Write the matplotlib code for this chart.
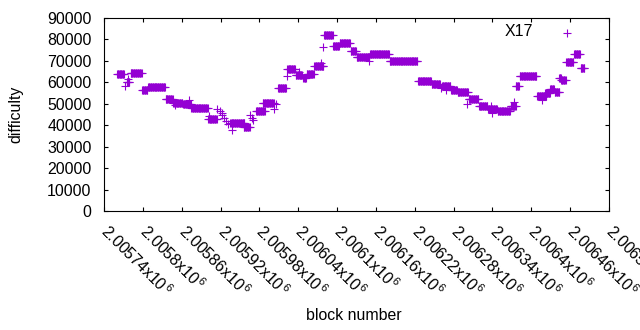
import numpy as np
import matplotlib
matplotlib.use('Agg')
from matplotlib import pyplot as plt

plt.rcParams['font.family'] = ['Liberation Sans', 'DejaVu Sans']
plt.rcParams['mathtext.fontset'] = 'custom'
plt.rcParams['mathtext.rm'] = 'Liberation Sans'
plt.rcParams['mathtext.it'] = 'Liberation Sans'

# plateaus: first block, last block, difficulty (same value for every block in between)
run_first = [2005760, 2005775, 2005781, 2005799, 2005808, 2005835, 2005847, 2005862,
             2005875, 2005901, 2005935, 2005956, 2005975, 2005985, 2006009, 2006023,
             2006036, 2006048, 2006053, 2006065, 2006080, 2006094, 2006104, 2006121,
             2006130, 2006151, 2006181, 2006225, 2006246, 2006262, 2006276, 2006286,
             2006303, 2006319, 2006333, 2006348, 2006368, 2006376, 2006382, 2006409,
             2006421, 2006429, 2006436, 2006443, 2006446, 2006454, 2006466, 2006476]
run_last = [2005771, 2005779, 2005798, 2005807, 2005834, 2005846, 2005861, 2005874,
            2005900, 2005914, 2005957, 2005965, 2005988, 2006002, 2006021, 2006035,
            2006046, 2006052, 2006064, 2006079, 2006093, 2006103, 2006120, 2006129,
            2006150, 2006180, 2006224, 2006245, 2006259, 2006275, 2006285, 2006302,
            2006318, 2006332, 2006347, 2006367, 2006376, 2006381, 2006408, 2006423,
            2006429, 2006435, 2006443, 2006446, 2006453, 2006465, 2006475, 2006482]
run_diff = [63800, 60300, 64300, 56300, 57700, 52100, 50500, 50000,
            47900, 42900, 41000, 39200, 46600, 50200, 57200, 66100,
            63500, 61800, 63700, 67800, 82000, 76800, 78400, 74600,
            71700, 73200, 70000, 60500, 59000, 58100, 56400, 55400,
            52100, 48800, 47600, 46500, 48900, 58100, 62900, 53800,
            55200, 56800, 55500, 62000, 61100, 69400, 73200, 66800]

# odd single blocks
one_block = [2005773, 2005777, 2005850, 2005872, 2005902, 2005915, 2005919, 2005922,
             2005923, 2005926, 2005928, 2005931, 2005938, 2005966, 2005968, 2005970,
             2006003, 2006006, 2006022, 2006041, 2006075, 2006078, 2006149, 2006260,
             2006268, 2006301, 2006337, 2006340, 2006374, 2006416]
one_diff = [58300, 61700, 49300, 51600, 44200, 47700, 46800, 45800,
            45000, 43500, 42000, 40500, 37800, 44800, 43500, 42300,
            47400, 49900, 62900, 64900, 69000, 76300, 70100, 57200,
            56400, 49900, 49000, 45800, 51000, 51800]

xtick_vals = np.arange(2005740, 2006521, 60)

blocks = []
diffs = []
for b0, b1, d in zip(run_first, run_last, run_diff):
    for b in range(b0, b1 + 1):
        blocks.append(b)
        diffs.append(d)
blocks = blocks + one_block
diffs = diffs + one_diff

purple = '#9400d3'
fs = 11.4

fig = plt.figure(figsize=(6.4, 3.3), dpi=100)
ax = fig.add_axes([104/640., 1-211/330., 505/640., 193/330.])

ax.plot(blocks, diffs, '+', color=purple, ms=5.2, mew=0.8, ls='none')

ax.set_xlim(2005740, 2006520)
ax.set_ylim(0, 90000)
ax.set_yticks(np.arange(0, 90001, 10000))
ax.set_xticks(xtick_vals)
ax.set_xticklabels(['%gx10$^{\\,6}$' % (v/1e6) for v in xtick_vals],
                   rotation=-45, ha='left', va='center', rotation_mode='anchor')
ax.tick_params(direction='in', length=3, width=0.8, top=True, right=True,
               labelsize=fs, pad=9)
ax.tick_params(axis='x', pad=12)
for s in ax.spines.values():
    s.set_linewidth(0.8)

ax.set_ylabel('difficulty', fontsize=fs)
ax.yaxis.set_label_coords(-0.160, 0.5)
ax.set_xlabel('block number', fontsize=fs)
ax.xaxis.set_label_coords(0.495, -0.503)

# legend, gnuplot style
ax.text(0.8495, 0.931, 'X17', transform=ax.transAxes, ha='right', va='center', fontsize=fs)
ax.plot([0.9174], [0.924], '+', color=purple, ms=5.2, mew=0.8,
        transform=ax.transAxes, clip_on=False)

plt.savefig('out.png', dpi=100)
plt.close()
